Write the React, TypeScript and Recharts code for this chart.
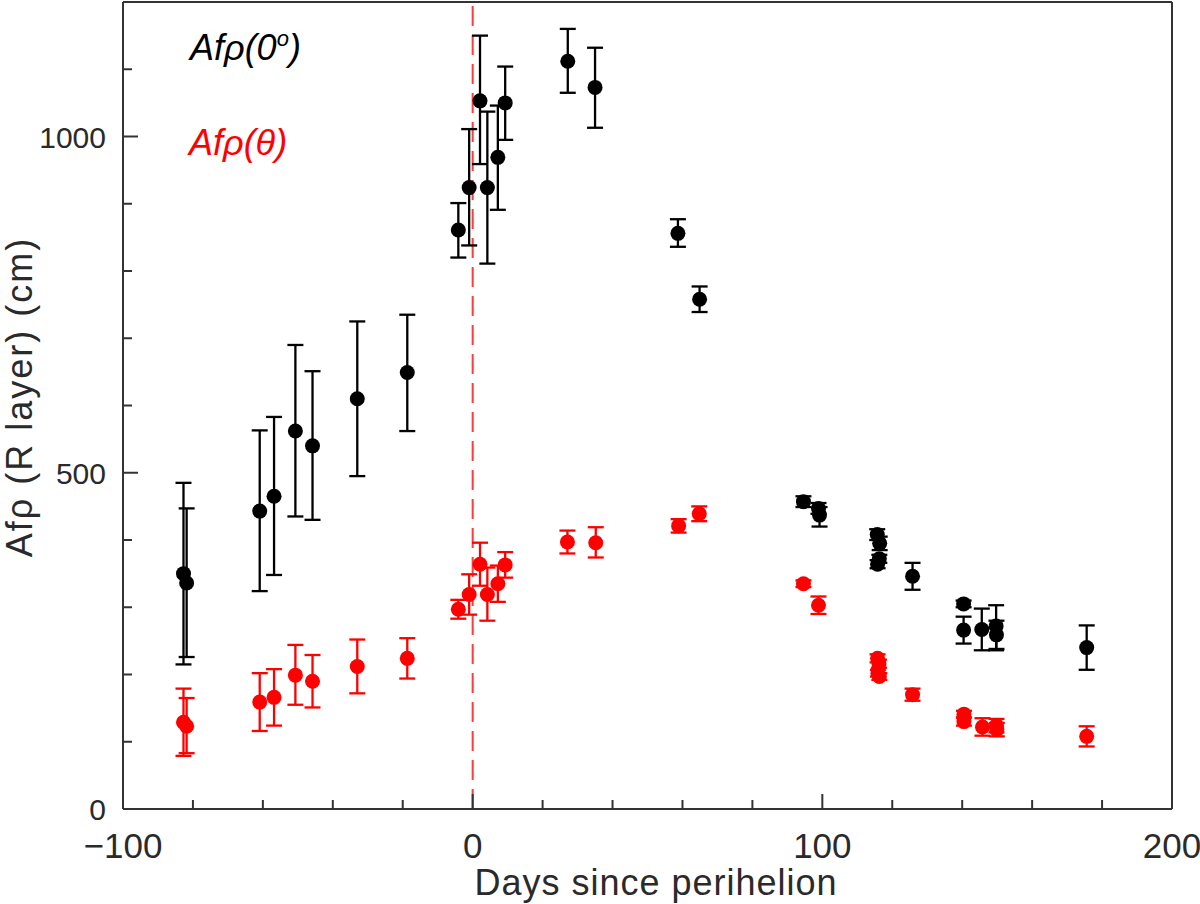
import { ScatterChart, Scatter, XAxis, YAxis, ErrorBar, ReferenceLine } from "recharts";

// Af rho at phase angle 0 (black)
const days0 = [-82.7, -81.8, -60.9, -56.8, -50.7, -45.8, -33.0, -18.7, -4.1, -1.0, 2.1, 4.2, 7.2, 9.3, 27.2, 35.0, 58.7, 64.9, 94.6, 98.9, 99.2, 115.7, 116.4, 115.8, 116.3, 125.8, 140.4, 140.4, 145.6, 149.7, 149.8, 175.6];
const afr0 = [350, 336, 443, 465, 562, 540, 610, 649, 861, 924, 1053, 924, 969, 1050, 1112, 1073, 856, 758, 457, 447, 437, 408, 395, 364, 372, 346, 305, 266, 267, 272, 259, 240];
const err0Lo = [135, 110, 119, 117, 127, 110, 115, 87, 41, 86, 94, 113, 78, 55, 47, 60, 20, 19, 8, 8, 17, 8, 10, 6, 6, 20, 5, 20, 31, 36, 21, 33];
const err0Hi = [135, 111, 120, 118, 128, 111, 115, 86, 40, 87, 97, 113, 77, 54, 48, 59, 21, 19, 8, 8, 12, 8, 10, 6, 6, 20, 5, 20, 31, 31, 21, 33];

// Af rho at phase angle theta (red)
const daysT = [-82.7, -81.8, -60.9, -56.8, -50.7, -45.8, -33.0, -18.7, -4.1, -1.0, 2.1, 4.2, 7.2, 9.3, 27.1, 35.2, 58.9, 64.8, 94.6, 98.9, 115.8, 116.2, 115.9, 116.3, 125.8, 140.5, 140.5, 145.8, 149.8, 149.9, 175.6];
const afrT = [129, 123, 159, 166, 199, 190, 212, 224, 297, 319, 364, 319, 335, 363, 397, 396, 421, 439, 335, 303, 224, 216, 202, 197, 170, 141, 130, 122, 124, 118, 108];
const errTLo = [50, 40, 43, 42, 44, 39, 40, 30, 14, 30, 32, 39, 27, 19, 17, 22, 10, 11, 5, 13, 6, 6, 5, 5, 9, 5, 6, 13, 10, 10, 15];
const errTHi = [50, 42, 43, 42, 45, 39, 40, 30, 14, 30, 32, 40, 27, 19, 17, 23, 10, 11, 5, 13, 6, 6, 5, 5, 9, 5, 6, 13, 10, 10, 15];

const xTicks = [-100, -80, -60, -40, -20, 0, 20, 40, 60, 80, 100, 120, 140, 160, 180, 200];
const yTicks = [0, 100, 200, 300, 400, 500, 600, 700, 800, 900, 1000, 1100];
const yLabelled = [0, 500, 1000];

const black = days0.map((d, i) => ({ x: d, y: afr0[i], err: [err0Lo[i], err0Hi[i]] }));
const red = daysT.map((d, i) => ({ x: d, y: afrT[i], err: [errTLo[i], errTHi[i]] }));

const FONT = "'Liberation Sans', Arial, sans-serif";
const AXIS = "#333";

const fmtX = (v: number) => (v < 0 ? `\u2212${Math.abs(v)}` : `${v}`);

const BottomTick = ({ x, y, payload }: any) => {
  const major = payload.value % 100 === 0;
  return (
    <g>
      <line x1={x} x2={x} y1={y} y2={y - (major ? 15 : 9)} stroke={AXIS} strokeWidth={2} />
      {major && (
        <text x={x} y={y + 49} textAnchor="middle" fontSize={35} fill="#2a2a2a" fontFamily={FONT}>
          {fmtX(payload.value)}
        </text>
      )}
    </g>
  );
};

const TopTick = ({ x, y, payload }: any) => {
  const major = payload.value % 100 === 0;
  return <line x1={x} x2={x} y1={y} y2={y + (major ? 15 : 9)} stroke={AXIS} strokeWidth={2} />;
};

const LeftTick = ({ x, y, payload }: any) => {
  const major = yLabelled.includes(payload.value);
  return (
    <g>
      <line x1={x} x2={x + (major ? 15 : 9)} y1={y} y2={y} stroke={AXIS} strokeWidth={2} />
      {major && (
        <text x={x - 17} y={y + 11} textAnchor="end" fontSize={30} fill="#2a2a2a" fontFamily={FONT}>
          {payload.value}
        </text>
      )}
    </g>
  );
};

const RightTick = ({ x, y, payload }: any) => {
  const major = yLabelled.includes(payload.value);
  return <line x1={x} x2={x - (major ? 15 : 9)} y1={y} y2={y} stroke={AXIS} strokeWidth={2} />;
};

const dot = (color: string) => (p: any) => <circle cx={p.cx} cy={p.cy} r={7.5} fill={color} />;

export default function App() {
  return (
    <div style={{ position: "absolute", left: 0, top: 0, width: 1200, height: 904, background: "#fff" }}>
      <ScatterChart width={1200} height={904} margin={{ top: 1, right: 27, bottom: 94, left: 122 }}>
        <XAxis
          type="number"
          dataKey="x"
          domain={[-100, 200]}
          ticks={xTicks}
          tick={<BottomTick />}
          tickSize={0}
          tickMargin={0}
          height={1}
          axisLine={{ stroke: AXIS, strokeWidth: 2 }}
          tickLine={false}
          interval={0}
        />
        <XAxis
          xAxisId="top"
          orientation="top"
          type="number"
          domain={[-100, 200]}
          ticks={xTicks}
          tick={<TopTick />}
          tickSize={0}
          tickMargin={0}
          height={1}
          axisLine={{ stroke: AXIS, strokeWidth: 2 }}
          tickLine={false}
          interval={0}
        />
        <YAxis
          type="number"
          dataKey="y"
          domain={[0, 1200]}
          ticks={yTicks}
          tick={<LeftTick />}
          tickSize={0}
          tickMargin={0}
          width={1}
          axisLine={{ stroke: AXIS, strokeWidth: 2 }}
          tickLine={false}
          interval={0}
        />
        <YAxis
          yAxisId="right"
          orientation="right"
          type="number"
          domain={[0, 1200]}
          ticks={yTicks}
          tick={<RightTick />}
          tickSize={0}
          tickMargin={0}
          width={1}
          axisLine={{ stroke: AXIS, strokeWidth: 2 }}
          tickLine={false}
          interval={0}
        />
        <ReferenceLine x={0} stroke="#ff3b3b" strokeWidth={2} strokeDasharray="20 9" />
        <Scatter data={black} fill="#000" shape={dot("#000")} isAnimationActive={false}>
          <ErrorBar dataKey="err" direction="y" width={8} stroke="#000" strokeWidth={2.3} isAnimationActive={false} />
        </Scatter>
        <Scatter data={red} fill="#f00" shape={dot("#f00")} isAnimationActive={false}>
          <ErrorBar dataKey="err" direction="y" width={8} stroke="#f00" strokeWidth={2.3} isAnimationActive={false} />
        </Scatter>
      </ScatterChart>
      <svg
        width={1200}
        height={904}
        style={{ position: "absolute", left: 0, top: 0, pointerEvents: "none" }}
        fontFamily={FONT}
      >
        <text x={190} y={60} fontSize={36} fontStyle="italic" fill="#000">
          Afρ(0<tspan dy={-14} fontSize={22}>o</tspan>
          <tspan dy={14}>)</tspan>
        </text>
        <text x={189} y={155} fontSize={36} fontStyle="italic" fill="#f00">
          Afρ(θ)
        </text>
        <text x={656} y={895} fontSize={36} textAnchor="middle" fill="#2a2a2a" letterSpacing={1}>
          Days since perihelion
        </text>
        <text
          x={0}
          y={0}
          fontSize={36}
          textAnchor="middle"
          fill="#2a2a2a"
          letterSpacing={2}
          transform="translate(32, 397) rotate(-90)"
        >
          Afρ (R layer) (cm)
        </text>
      </svg>
    </div>
  );
}
